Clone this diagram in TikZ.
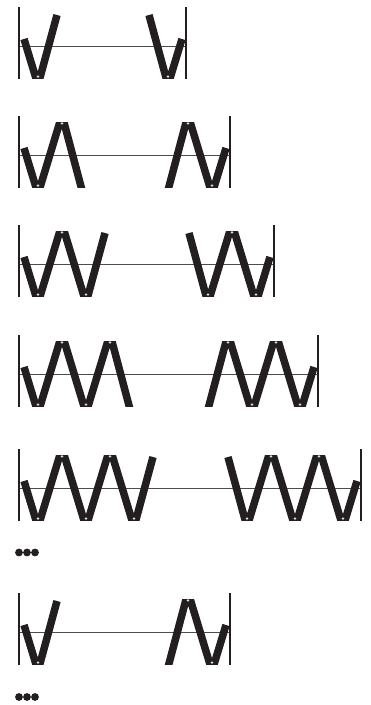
\documentclass[tikz,border=0pt]{standalone}
\definecolor{ink}{HTML}{231F20}
\tikzset{
  wallline/.style={draw=ink, line width=2pt},
  rodline/.style={draw=black!70, line width=0.9pt},
  barline/.style={draw=ink, line width=7.5pt, line join=miter, line cap=butt},
  hingedot/.style={fill=white, draw=black!55, line width=0.25pt},
  moredot/.style={fill=ink}
}
% #1 visible bottom B, #2 right wall x
\newcommand{\springframe}[2]{%
  \draw[rodline] (19,{#1-32}) -- (#2,{#1-32});
  \draw[wallline] (19,{#1-71}) -- (19,{#1+1});
  \draw[wallline] (#2,{#1-71}) -- (#2,{#1+1});
}
% #1 B, #2 list of bottom joint x, #3 list of top joint x
\newcommand{\hingeset}[3]{%
  \foreach \x in {#2} {\filldraw[hingedot] (\x,{#1-1.4}) circle (1.3);}
  \foreach \x in {#3} {\filldraw[hingedot] (\x,{#1-65+1.4}) circle (1.3);}
}
\begin{document}
\begin{tikzpicture}[x=1pt,y=-1pt]
\useasboundingbox (0,0) rectangle (370,705);
% Row 1
\def\B{78}\def\T{13}
\springframe{\B}{186}
\begin{scope}
\clip (0,\T) rectangle (370,\B);
\draw[barline] (24,\B-39) -- (38,\B+7) -- (57,\T+2);
\draw[barline] (182,\B-39) -- (168,\B+7) -- (149,\T+2);
\end{scope}
\hingeset{\B}{38,168}{}
% Row 2
\def\B{187}\def\T{122}
\springframe{\B}{230}
\begin{scope}
\clip (0,\T) rectangle (370,\B);
\draw[barline] (24,\B-39) -- (38,\B+7) -- (62,\T-7) -- (83,\B+7);
\draw[barline] (226,\B-39) -- (212,\B+7) -- (188,\T-7) -- (167,\B+7);
\end{scope}
\hingeset{\B}{38,212}{62,188}
% Row 3
\def\B{296}\def\T{231}
\springframe{\B}{274}
\begin{scope}
\clip (0,\T) rectangle (370,\B);
\draw[barline] (24,\B-39) -- (38,\B+7) -- (62,\T-7) -- (86,\B+7) -- (105,\T+2);
\draw[barline] (270,\B-39) -- (256,\B+7) -- (232,\T-7) -- (208,\B+7) -- (189,\T+2);
\end{scope}
\hingeset{\B}{38,86,256,208}{62,232}
% Row 4
\def\B{406}\def\T{341}
\springframe{\B}{318}
\begin{scope}
\clip (0,\T) rectangle (370,\B);
\draw[barline] (24,\B-39) -- (38,\B+7) -- (62,\T-7) -- (86,\B+7) -- (110,\T-7) -- (131,\B+7);
\draw[barline] (314,\B-39) -- (300,\B+7) -- (276,\T-7) -- (252,\B+7) -- (228,\T-7) -- (207,\B+7);
\end{scope}
\hingeset{\B}{38,86,300,252}{62,110,276,228}
% Row 5
\def\B{520}\def\T{455}
\springframe{\B}{361}
\begin{scope}
\clip (0,\T) rectangle (370,\B);
\draw[barline] (24,\B-39) -- (38,\B+7) -- (62,\T-7) -- (86,\B+7) -- (110,\T-7) -- (134,\B+7) -- (153,\T+2);
\draw[barline] (357,\B-39) -- (343,\B+7) -- (319,\T-7) -- (295,\B+7) -- (271,\T-7) -- (247,\B+7) -- (228,\T+2);
\end{scope}
\hingeset{\B}{38,86,134,343,295,247}{62,110,319,271}
% ellipsis 1
\foreach \x in {19,27,35} {\fill[moredot] (\x,552.5) circle (3.9);}
% Row 6
\def\B{664}\def\T{599}
\springframe{\B}{230}
\begin{scope}
\clip (0,\T) rectangle (370,\B);
\draw[barline] (24,\B-39) -- (38,\B+7) -- (57,\T+2);
\draw[barline] (226,\B-39) -- (212,\B+7) -- (188,\T-7) -- (167,\B+7);
\end{scope}
\hingeset{\B}{38,212}{188}
% ellipsis 2
\foreach \x in {19,27,35} {\fill[moredot] (\x,697) circle (3.9);}
\end{tikzpicture}
\end{document}
